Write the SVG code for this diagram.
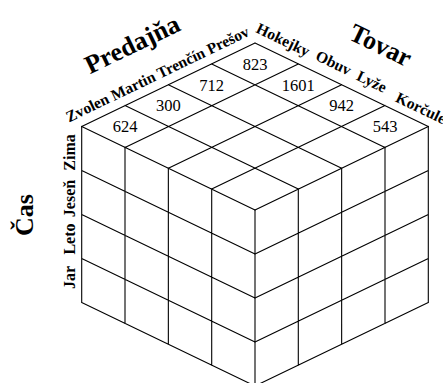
<svg xmlns="http://www.w3.org/2000/svg" width="443" height="383" viewBox="0 0 443 383">
<style>
.g{fill:none;stroke:#000;stroke-width:1.1;stroke-linecap:square}
text{font-family:"Liberation Serif","Times New Roman",serif;fill:#000}
.t{font-size:26px;font-weight:bold;text-anchor:middle}
.l{font-size:15.6px;font-weight:bold}
.s{font-size:16px;font-weight:bold;text-anchor:middle}
.n{font-size:16.5px;text-anchor:middle}
</style>
<rect width="443" height="383" fill="#fff"/>
<g id="cube">
<g id="top-face">
<path class="g" d="M81.7,126.5 L255,43 M125,147.4 L298.3,63.9 M168.35,168.25 L341.65,84.75 M211.7,189.1 L385,105.6 M255,210 L428.3,126.5 M81.7,126.5 L255,210 M125,105.6 L298.3,189.1 M168.35,84.75 L341.65,168.25 M211.7,63.9 L385,147.4 M255,43 L428.3,126.5"/>
</g>
<g id="left-face">
<path class="g" d="M81.7,126.5 V302.5 M125,147.4 V323.4 M168.35,168.25 V344.25 M211.7,189.1 V365.1 M255,210 V386 M81.7,170.5 L255,254 M81.7,214.5 L255,298 M81.7,258.5 L255,342 M81.7,302.5 L255,386"/>
</g>
<g id="right-face">
<path class="g" d="M298.3,189.1 V365.1 M341.65,168.25 V344.25 M385,147.4 V323.4 M428.3,126.5 V302.5 M255,254 L428.3,170.5 M255,298 L428.3,214.5 M255,342 L428.3,258.5 M255,386 L428.3,302.5"/>
</g>
</g>
<g id="values">
<text class="n" x="125" y="132.3">624</text>
<text class="n" x="168.3" y="111.4">300</text>
<text class="n" x="211.7" y="90.6">712</text>
<text class="n" x="255" y="69.7">823</text>
<text class="n" x="298.3" y="90.6">1601</text>
<text class="n" x="341.7" y="111.4">942</text>
<text class="n" x="385" y="132.3">543</text>
</g>
<g id="axis-predajna">
<text class="t" transform="translate(136,52) rotate(-25.7)">Predajňa</text>
<text class="l" transform="translate(69,122.5) rotate(-25.7)">Zvolen Martin Trenčín Prešov</text>
</g>
<g id="axis-tovar">
<text class="t" transform="translate(377,53) rotate(25.7)">Tovar</text>
<text class="l" transform="translate(255,32) rotate(25.7)">Hokejky</text>
<text class="l" transform="translate(314.5,59.5) rotate(25.7)">Obuv</text>
<text class="l" transform="translate(355.5,79.6) rotate(25.7)">Lyže</text>
<text class="l" transform="translate(394.5,101.2) rotate(25.7)">Korčule</text>
</g>
<g id="axis-cas">
<text class="t" transform="translate(33,215) rotate(-90)">Čas</text>
<text class="s" transform="translate(75,152.5) rotate(-90)">Zima</text>
<text class="s" transform="translate(75,198.5) rotate(-90)">Jeseň</text>
<text class="s" transform="translate(75,239) rotate(-90)">Leto</text>
<text class="s" transform="translate(75,277.5) rotate(-90)">Jar</text>
</g>
</svg>
